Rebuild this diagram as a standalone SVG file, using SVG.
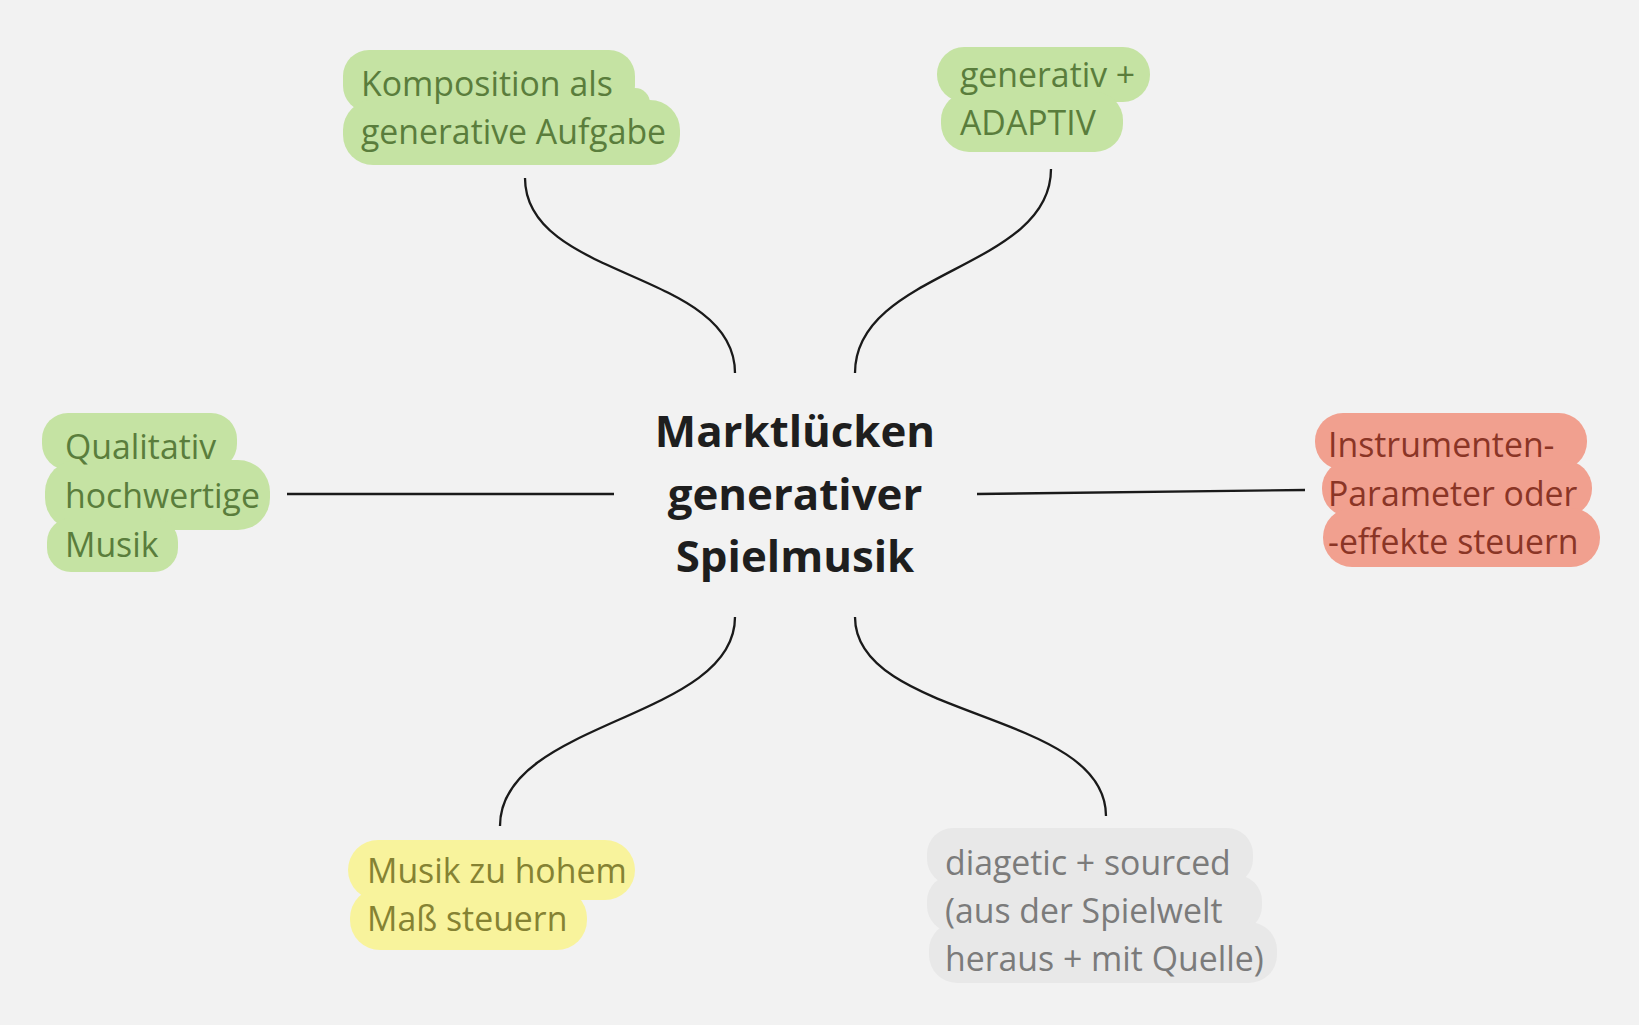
<svg xmlns="http://www.w3.org/2000/svg" width="1639" height="1025" viewBox="0 0 1639 1025">
<style>
.t{font-family:"Open Sans","Liberation Sans",sans-serif;font-size:33.8px}
.g rect{fill:#c5e3a3}.g text{fill:#5a7d3c}
.r rect{fill:#f1a08f}.r text{fill:#8a3526}
.y rect{fill:#f8f39c}.y text{fill:#858233}
.k rect{fill:#e8e8e8}.k text{fill:#7b7b7b}
.c{font-family:"Open Sans","Liberation Sans",sans-serif;font-size:43.8px;font-weight:700;fill:#1e1e1e}
.ln{fill:none;stroke:#1a1a1a;stroke-width:2.3}
</style>
<rect width="1639" height="1025" fill="#f2f2f2"/>
<g id="connectors">
<path class="ln" d="M525,178 C525,280 735,270 735,373"/>
<path class="ln" d="M1051,169 C1051,270 855,270 855,373"/>
<path class="ln" d="M287,494 L614,494"/>
<path class="ln" d="M977,494 L1305,490"/>
<path class="ln" d="M735,617 C735,720 500,720 500,826"/>
<path class="ln" d="M855,617 C855,720 1106,710 1106,816"/>
</g>
<g id="center">
<text class="c" x="795" y="447" text-anchor="middle">Marktlücken</text>
<text class="c" x="795" y="510" text-anchor="middle">generativer</text>
<text class="c" x="795" y="572" text-anchor="middle">Spielmusik</text>
</g>
<g id="n-komposition" class="g">
<rect x="343" y="50" width="292" height="62" rx="26"/>
<rect x="600" y="88" width="50" height="30" rx="15"/>
<rect x="343" y="100" width="337" height="65" rx="30"/>
<text class="t" x="361" y="96">Komposition als</text>
<text class="t" x="361" y="144">generative Aufgabe</text>
</g>
<g id="n-adaptiv" class="g">
<rect x="937" y="47" width="213" height="55" rx="27"/>
<rect x="941" y="92" width="182" height="60" rx="28"/>
<text class="t" x="960" y="87">generativ +</text>
<text class="t" x="960" y="135">ADAPTIV</text>
</g>
<g id="n-qualitativ" class="g">
<rect x="42" y="413" width="195" height="57" rx="26"/>
<rect x="45" y="460" width="225" height="70" rx="32"/>
<rect x="47" y="518" width="131" height="54" rx="24"/>
<text class="t" x="65" y="459">Qualitativ</text>
<text class="t" x="65" y="508">hochwertige</text>
<text class="t" x="65" y="557">Musik</text>
</g>
<g id="n-instrumenten" class="r">
<rect x="1315" y="413" width="272" height="57" rx="28"/>
<rect x="1322" y="460" width="270" height="57" rx="28"/>
<rect x="1323" y="508" width="277" height="59" rx="29"/>
<text class="t" x="1328" y="457">Instrumenten-</text>
<text class="t" x="1328" y="506">Parameter oder</text>
<text class="t" x="1328" y="554">-effekte steuern</text>
</g>
<g id="n-musik" class="y">
<rect x="348" y="840" width="287" height="60" rx="30"/>
<rect x="350" y="888" width="237" height="62" rx="30"/>
<text class="t" x="367" y="883">Musik zu hohem</text>
<text class="t" x="367" y="931">Maß steuern</text>
</g>
<g id="n-diagetic" class="k">
<rect x="927" y="828" width="326" height="57" rx="26"/>
<rect x="927" y="875" width="335" height="57" rx="26"/>
<rect x="929" y="922" width="348" height="61" rx="28"/>
<text class="t" x="945" y="875">diagetic + sourced</text>
<text class="t" x="945" y="923">(aus der Spielwelt</text>
<text class="t" x="945" y="971">heraus + mit Quelle)</text>
</g>
</svg>
